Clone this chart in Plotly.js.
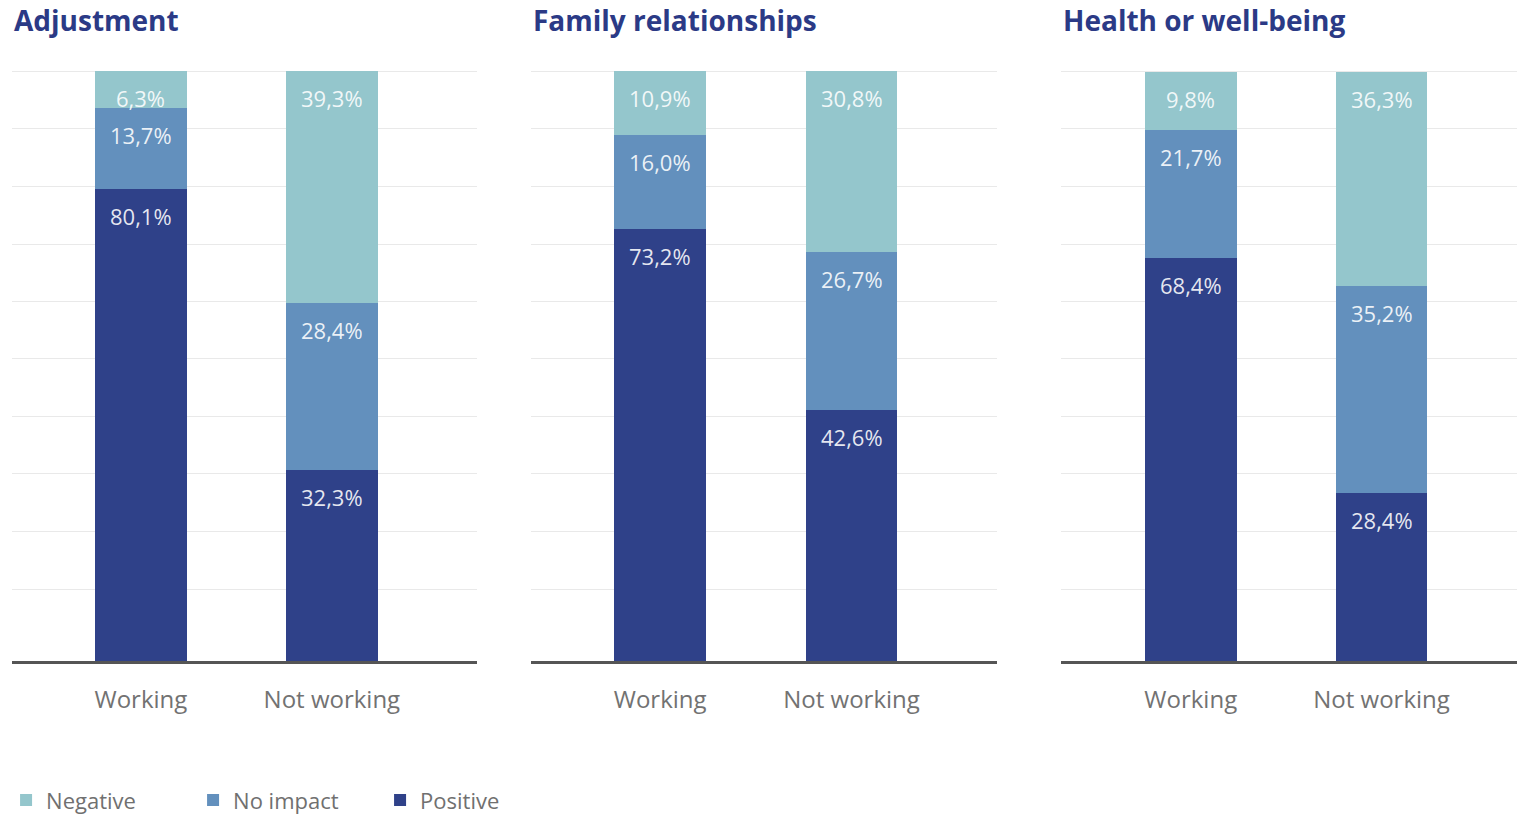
<!DOCTYPE html>
<html>
<head>
<meta charset="utf-8">
<script src="https://cdn.plot.ly/plotly-3.0.1.min.js"></script>
<style>html,body{margin:0;padding:0;background:#fff;}#chart{width:1517px;height:814px;}</style>
</head>
<body>
<div id="chart"></div>
<script>
// ---- data ----
var panelTitles = ["Adjustment", "Family relationships", "Health or well-being"];
var categories = ["Working", "Not working"];
var seriesNames = ["Negative", "No impact", "Positive"];
var negativeValues = [[6.3, 39.3], [10.9, 30.8], [9.8, 36.3]];
var noImpactValues = [[13.7, 28.4], [16.0, 26.7], [21.7, 35.2]];
var positiveValues = [[80.1, 32.3], [73.2, 42.6], [68.4, 28.4]];
var gridValues = [12.2, 22.0, 31.8, 41.5, 51.3, 60.9, 70.7, 80.5, 90.2, 100];

// ---- styles ----
var colors = {"Negative": "#94c6cc", "No impact": "#6390bd", "Positive": "#2f4189"};
var W = 1517;
var domains = [[12 / W, 477 / W], [531 / W, 997 / W], [1061 / W, 1]];
var xRanges = [[-0.675, 1.76], [-0.675, 1.76], [-0.68, 1.71]];
var FONT = '"Open Sans", Lato, sans-serif';

function fmt(v) { return v.toFixed(1).replace('.', ',') + '%'; }

var traces = [];
var annotations = [];
var layout = {
  width: 1517, height: 814,
  margin: {l: 0, r: 0, t: 70, b: 153},
  paper_bgcolor: '#fff', plot_bgcolor: '#fff',
  barmode: 'stack',
  bargap: 0.52,
  showlegend: true,
  legend: {
    orientation: 'h', x: 0.004, xanchor: 'left', xref: 'paper',
    yref: 'container', y: 0.017, yanchor: 'middle',
    traceorder: 'reversed', entrywidth: 142, entrywidthmode: 'pixels',
    font: {family: FONT, size: 22, color: '#707070'}
  },
  font: {family: FONT}
};

for (var p = 0; p < 3; p++) {
  var sfx = p === 0 ? '' : String(p + 1);
  var xa = 'x' + sfx, ya = 'y' + sfx;
  var seriesSets = [
    ["Positive", positiveValues[p]],
    ["No impact", noImpactValues[p]],
    ["Negative", negativeValues[p]]
  ];
  var cum = [0, 0];
  seriesSets.forEach(function (s) {
    traces.push({
      type: 'bar', name: s[0], x: categories, y: s[1],
      xaxis: xa, yaxis: ya,
      marker: {color: colors[s[0]], line: {width: 0}},
      showlegend: p === 0, legendgroup: s[0],
      hoverinfo: 'none'
    });
    for (var c = 0; c < categories.length; c++) {
      cum[c] += s[1][c];
      annotations.push({
        xref: xa, yref: ya, x: categories[c], y: Math.min(cum[c], 100),
        yanchor: 'top', yshift: -10, showarrow: false,
        text: fmt(s[1][c]),
        font: {family: FONT, size: 22, color: 'rgba(255,255,255,0.88)'}
      });
    }
  });
  annotations.push({
    xref: 'paper', yref: 'paper', x: domains[p][0], y: 1, yshift: 50,
    xanchor: 'left', yanchor: 'middle', showarrow: false,
    text: '<b>' + panelTitles[p] + '</b>',
    font: {family: FONT, size: 28, color: '#2b3a86'}
  });
  layout['xaxis' + sfx] = {
    domain: domains[p], anchor: ya, range: xRanges[p],
    showgrid: false, zeroline: false, showline: true, linecolor: '#555', linewidth: 3,
    ticks: '', ticklabelstandoff: 15,
    tickfont: {family: FONT, size: 24, color: '#727272'},
    fixedrange: true
  };
  layout['yaxis' + sfx] = {
    domain: [0, 1], anchor: xa, range: [0, 100.2],
    tickmode: 'array', tickvals: gridValues, showticklabels: false,
    showgrid: true, gridcolor: '#e9e9e9', gridwidth: 1,
    zeroline: false, showline: false, fixedrange: true
  };
}
layout.annotations = annotations;

Plotly.newPlot('chart', traces, layout, {displayModeBar: false, staticPlot: true});
</script>
</body>
</html>
